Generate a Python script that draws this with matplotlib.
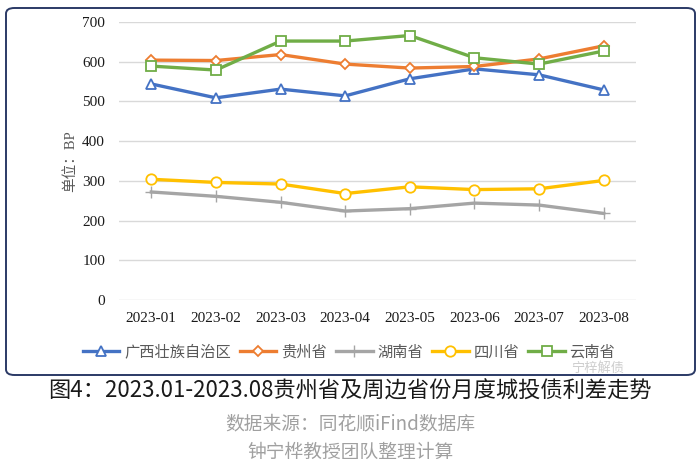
import matplotlib
matplotlib.use("Agg")
import matplotlib.pyplot as plt
from matplotlib.patches import FancyBboxPatch

months = ["2023-01", "2023-02", "2023-03", "2023-04", "2023-05", "2023-06", "2023-07", "2023-08"]
guangxi = [544, 509, 531, 514, 557, 582, 567, 529]
guizhou = [604, 603, 618, 594, 584, 588, 607, 640]
hunan = [272, 261, 246, 224, 230, 244, 239, 218]
sichuan = [304, 296, 292, 268, 285, 278, 280, 301]
yunnan = [589, 579, 652, 652, 666, 610, 594, 627]
series_names = ["广西壮族自治区", "贵州省", "湖南省", "四川省", "云南省"]
yticks = [0, 100, 200, 300, 400, 500, 600, 700]

cjk = ["Noto Sans CJK SC", "DejaVu Sans"]
serif = ["Liberation Serif", "Noto Sans CJK SC"]

fig = plt.figure(figsize=(7.0, 4.68), dpi=100)
fig.patch.set_facecolor("white")

frame = FancyBboxPatch((6 / 700, 1 - 375 / 468), (689) / 700, (367) / 468,
                       boxstyle="round,pad=0,rounding_size=0.012",
                       transform=fig.transFigure, facecolor="none",
                       edgecolor="#2B3A66", linewidth=1.4, zorder=-1)
fig.patches.append(frame)

ax = fig.add_axes([119 / 700, 1 - 300 / 468, (636 - 119) / 700, (300 - 22) / 468])
ax.set_facecolor("none")
x = list(range(len(months)))

styles = [
    (guangxi, "#4472C4", "^", 7.5),
    (guizhou, "#ED7D31", "D", 5.5),
    (hunan, "#A5A5A5", "+", 8),
    (sichuan, "#FFC000", "o", 7.5),
    (yunnan, "#70AD47", "s", 7.5),
]
handles = []
for (vals, col, mk, ms), name in zip(styles, series_names):
    if mk == "+":
        h, = ax.plot(x, vals, color=col, lw=2.4, marker=mk, markersize=ms,
                     markeredgecolor=col, markeredgewidth=1.0, label=name, zorder=3)
    else:
        h, = ax.plot(x, vals, color=col, lw=2.4, marker=mk, markersize=ms,
                     markerfacecolor="white", markeredgecolor=col,
                     markeredgewidth=1.3, label=name, zorder=3)
    handles.append(h)

ax.set_xlim(-0.5, len(months) - 0.5)
ax.set_ylim(0, 700)
ax.set_yticks(yticks)
ax.set_xticks(x)
ax.set_xticklabels(months)
ax.grid(axis="y", color="#D9D9D9", linewidth=1.0)
ax.set_axisbelow(True)
for s in ax.spines.values():
    s.set_visible(False)
ax.tick_params(axis="both", length=0, labelsize=11, labelcolor="#1a1a1a")
ax.tick_params(axis="y", pad=10)
ax.tick_params(axis="x", pad=9)
for lab in ax.get_xticklabels() + ax.get_yticklabels():
    lab.set_family(serif)

ax.set_ylabel("单位：BP", family=serif, fontsize=10.5, color="#595959", labelpad=4)

leg = fig.legend(handles=handles, labels=series_names, loc="center",
                 bbox_to_anchor=(349 / 700, 1 - 352 / 468), ncol=5, frameon=False,
                 handlelength=2.4, handletextpad=0.3, columnspacing=0.6,
                 prop={"family": cjk, "size": 11})
for t in leg.get_texts():
    t.set_color("#595959")

fig.text(598 / 700, 1 - 368 / 468, "宁梓解债", family=cjk, fontsize=9.5,
         color="#C8C8C8", ha="center", va="center", alpha=0.9)

fig.text(0.5, 1 - 391 / 468, "图4：2023.01-2023.08贵州省及周边省份月度城投债利差走势",
         family=cjk, fontsize=16, color="#1a1a1a", ha="center", va="center")
fig.text(0.5, 1 - 424 / 468, "数据来源：同花顺iFind数据库",
         family=cjk, fontsize=13.5, color="#A0A0A0", ha="center", va="center")
fig.text(0.5, 1 - 452 / 468, "钟宁桦教授团队整理计算",
         family=cjk, fontsize=13.5, color="#A0A0A0", ha="center", va="center")

fig.savefig("out.png", dpi=100, facecolor="white")
